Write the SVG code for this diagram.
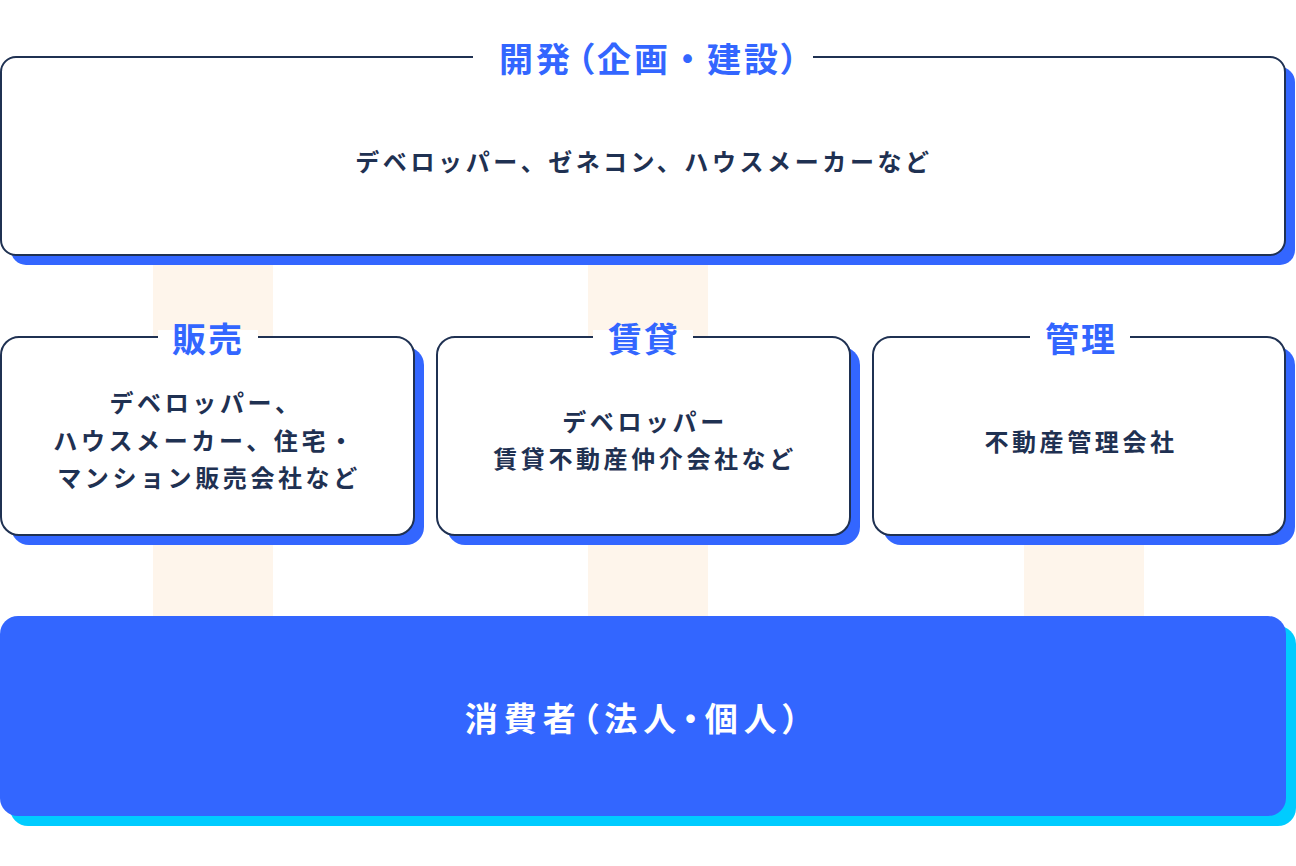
<svg xmlns="http://www.w3.org/2000/svg" width="1296" height="866" viewBox="0 0 1296 866">
<style>
.box{fill:#ffffff;stroke:#1f3152;stroke-width:2}
.sh{fill:#3366ff}
.bar{fill:#fef5eb}
.ttl{font-family:"Noto Sans CJK JP","Noto Sans",sans-serif;font-weight:700;font-size:34px;fill:#3366ff;text-anchor:middle;font-feature-settings:"palt" 1}
.txt{font-family:"Noto Sans CJK JP","Noto Sans",sans-serif;font-weight:700;font-size:24px;fill:#1f3152;text-anchor:middle;letter-spacing:3.6px}
.con{font-family:"Noto Sans CJK JP","Noto Sans",sans-serif;font-weight:700;font-size:33px;fill:#ffffff;text-anchor:middle;letter-spacing:6px;font-feature-settings:"palt" 1}
.mask{fill:#ffffff}
</style>
<rect width="1296" height="866" fill="#ffffff"/>
<g id="connectors">
<rect class="bar" x="153" y="260" width="120" height="80"/>
<rect class="bar" x="588" y="260" width="120" height="80"/>
<rect class="bar" x="153" y="540" width="120" height="80"/>
<rect class="bar" x="588" y="540" width="120" height="80"/>
<rect class="bar" x="1024" y="540" width="120" height="80"/>
</g>
<g id="development">
<rect class="sh" x="11" y="67" width="1284" height="198" rx="15"/>
<rect class="box" x="1" y="57" width="1284" height="198" rx="15"/>
<rect class="mask" x="473" y="50" width="340" height="14"/>
<text class="ttl" x="650" y="72" letter-spacing="3">開発<tspan dx="4">（</tspan>企画<tspan dx="8">・</tspan><tspan dx="8">建設）</tspan></text>
<text class="txt" x="644" y="171">デベロッパー、ゼネコン、ハウスメーカーなど</text>
</g>
<g id="sales">
<rect class="sh" x="11" y="347" width="413" height="198" rx="18"/>
<rect class="box" x="1" y="337" width="413" height="198" rx="18"/>
<rect class="mask" x="158" y="330" width="100" height="14"/>
<text class="ttl" x="208" y="352" letter-spacing="2">販売</text>
<text class="txt" x="206" y="412">デベロッパー、</text>
<text class="txt" x="205" y="450">ハウスメーカー、住宅・</text>
<text class="txt" x="209" y="487">マンション販売会社など</text>
</g>
<g id="rental">
<rect class="sh" x="447" y="347" width="413" height="198" rx="18"/>
<rect class="box" x="437" y="337" width="413" height="198" rx="18"/>
<rect class="mask" x="593" y="330" width="100" height="14"/>
<text class="ttl" x="644" y="352" letter-spacing="2">賃貸</text>
<text class="txt" x="645" y="431">デベロッパー</text>
<text class="txt" x="645" y="468">賃貸不動産仲介会社など</text>
</g>
<g id="management">
<rect class="sh" x="883" y="347" width="412" height="198" rx="18"/>
<rect class="box" x="873" y="337" width="412" height="198" rx="18"/>
<rect class="mask" x="1030" y="330" width="100" height="14"/>
<text class="ttl" x="1081" y="352" letter-spacing="2">管理</text>
<text class="txt" x="1081" y="451">不動産管理会社</text>
</g>
<g id="consumer">
<rect x="10" y="626" width="1286" height="200" rx="18" fill="#00ccff"/>
<rect x="0" y="616" width="1286" height="200" rx="18" fill="#3366ff"/>
<text class="con" x="635" y="731">消費者（法人・個人）</text>
</g>
</svg>
